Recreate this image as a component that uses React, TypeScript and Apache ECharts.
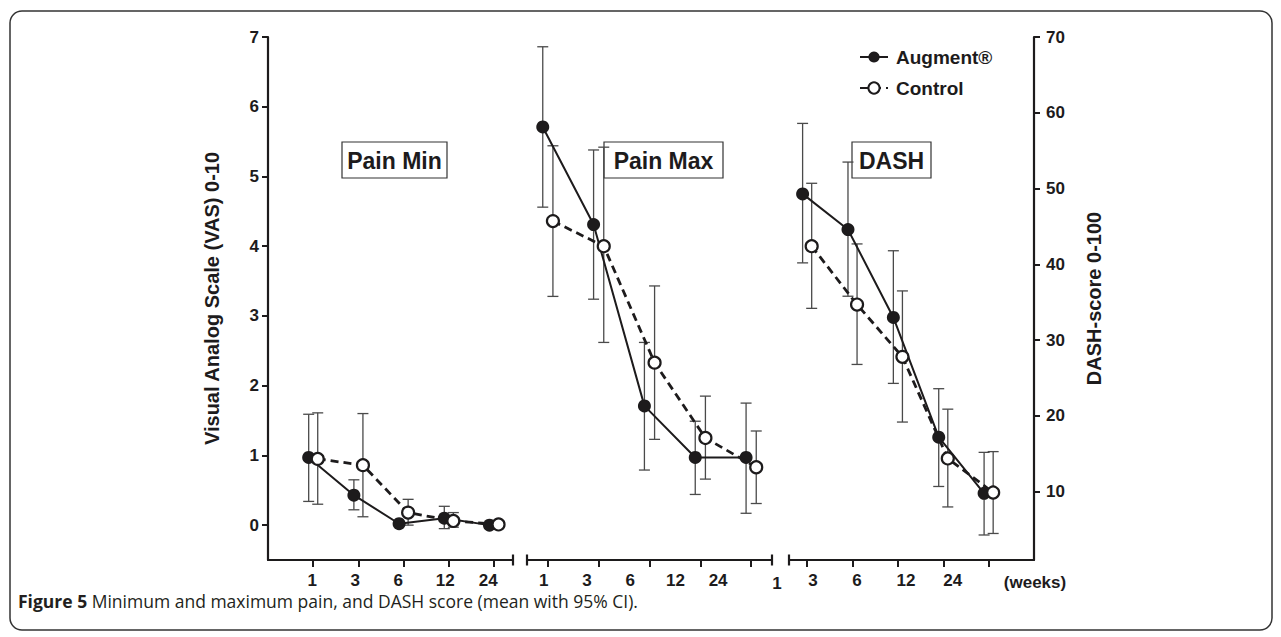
import React, { useEffect, useRef } from 'react';
import * as echarts from 'echarts';

// ---------- data ----------
const WEEKS = ['1', '3', '6', '12', '24'];
const SERIES_NAMES = ['Augment®', 'Control'];
const PANEL_TITLES = ['Pain Min', 'Pain Max', 'DASH'];
const VAS_TICKS = [0, 1, 2, 3, 4, 5, 6, 7];
const DASH_TICKS = [10, 20, 30, 40, 50, 60, 70];
const Y_LEFT_NAME = 'Visual Analog Scale (VAS) 0-10';
const Y_RIGHT_NAME = 'DASH-score 0-100';
const X_UNIT = '(weeks)';
const CAPTION_BOLD = 'Figure 5';
const CAPTION_TEXT = 'Minimum and maximum pain, and DASH score (mean with 95% CI).';

// Pain Min (VAS 0-10)
const painMinAugment = [0.97, 0.43, 0.02, 0.1, 0.0];
const painMinAugmentLow = [0.34, 0.22, 0.0, -0.05, 0.0];
const painMinAugmentHigh = [1.59, 0.65, 0.05, 0.27, 0.0];
const painMinControl = [0.95, 0.86, 0.18, 0.06, 0.01];
const painMinControlLow = [0.3, 0.12, 0.0, -0.03, 0.01];
const painMinControlHigh = [1.61, 1.6, 0.37, 0.18, 0.01];

// Pain Max (VAS 0-10)
const painMaxAugment = [5.71, 4.31, 1.71, 0.97, 0.97];
const painMaxAugmentLow = [4.56, 3.24, 0.79, 0.44, 0.17];
const painMaxAugmentHigh = [6.86, 5.38, 2.62, 1.49, 1.75];
const painMaxControl = [4.36, 4.0, 2.33, 1.25, 0.83];
const painMaxControlLow = [3.28, 2.62, 1.23, 0.66, 0.31];
const painMaxControlHigh = [5.44, 5.42, 3.43, 1.85, 1.35];

// DASH (0-100)
const dashAugment = [49.3, 44.6, 33.0, 17.2, 9.8];
const dashAugmentLow = [40.2, 35.8, 24.3, 10.7, 4.3];
const dashAugmentHigh = [58.6, 53.5, 41.8, 23.6, 15.2];
const dashControl = [42.4, 34.7, 27.8, 14.4, 9.9];
const dashControlLow = [34.2, 26.8, 19.2, 8.0, 4.5];
const dashControlHigh = [50.7, 42.7, 36.5, 20.9, 15.3];

// ---------- layout / style ----------
const INK = '#1d1b1c';
const BAR = '#4a4a4a';
const FONT = '"Liberation Sans", Arial, Helvetica, sans-serif';
const CAPTION_FONT = '"Open Sans", "Noto Sans", sans-serif';
const DODGE = 0.1;
const GRID_TOP = 37;
const GRID_HEIGHT = 523;
const VAS_MIN = -0.5;
const VAS_MAX = 7;
const DASH_MIN = 1;
const DASH_MAX = 70;
const SEGMENTS = [
  { left: 268, width: 245, xMin: 0, xMax: 5.42, labelPos: [0.98, 1.93, 2.88, 3.92, 4.87], caps: [5.42] },
  { left: 527, width: 245, xMin: 0.59, xMax: 5.41, labelPos: [0.92, 1.77, 2.62, 3.51, 4.35], caps: [0.59, 5.41] },
  { left: 789, width: 245, xMin: 0.6, xMax: 6, labelPos: [null, 1.13, 2.1, 3.18, 4.21], caps: [0.6] },
];
const BOXES = [
  { x: 342, y: 142, w: 105, h: 36 },
  { x: 604, y: 142, w: 119, h: 36 },
  { x: 852, y: 142, w: 79, h: 36 },
];

const PANELS = [
  {
    aug: painMinAugment, augLo: painMinAugmentLow, augHi: painMinAugmentHigh,
    ctl: painMinControl, ctlLo: painMinControlLow, ctlHi: painMinControlHigh,
  },
  {
    aug: painMaxAugment, augLo: painMaxAugmentLow, augHi: painMaxAugmentHigh,
    ctl: painMaxControl, ctlLo: painMaxControlLow, ctlHi: painMaxControlHigh,
  },
  {
    aug: dashAugment, augLo: dashAugmentLow, augHi: dashAugmentHigh,
    ctl: dashControl, ctlLo: dashControlLow, ctlHi: dashControlHigh,
  },
];

function errorBarRender(params: any, api: any) {
  const x = api.value(0);
  const lo = api.value(1);
  const hi = api.value(2);
  if (Math.abs(hi - lo) < 1e-9) return null;
  const a = api.coord([x, hi]);
  const b = api.coord([x, lo]);
  const w = 5.5;
  const style = { stroke: BAR, lineWidth: 1.3 };
  return {
    type: 'group',
    children: [
      { type: 'line', shape: { x1: a[0], y1: a[1], x2: b[0], y2: b[1] }, style },
      { type: 'line', shape: { x1: a[0] - w, y1: a[1], x2: a[0] + w, y2: a[1] }, style },
      { type: 'line', shape: { x1: b[0] - w, y1: b[1], x2: b[0] + w, y2: b[1] }, style },
    ],
  };
}

function capRender(params: any, api: any) {
  const p = api.coord([api.value(0), api.value(1)]);
  return {
    type: 'line',
    shape: { x1: p[0], y1: p[1] - 5.5, x2: p[0], y2: p[1] + 5.5 },
    style: { stroke: INK, lineWidth: 2.2 },
  };
}

function buildOption() {
  const grid = SEGMENTS.map((s) => ({ left: s.left, width: s.width, top: GRID_TOP, height: GRID_HEIGHT, containLabel: false }));

  const xAxis = SEGMENTS.map((s, i) => ({
    type: 'value',
    gridIndex: i,
    min: s.xMin,
    max: s.xMax,
    axisLine: { show: true, onZero: false, lineStyle: { color: INK, width: 2.2 } },
    axisTick: { show: true, customValues: WEEKS.map((_, k) => k + 1), length: 7, lineStyle: { color: INK, width: 2 } },
    axisLabel: {
      show: true,
      customValues: s.labelPos.filter((p) => p !== null),
      formatter: (v: number) => {
        const idx = s.labelPos.findIndex((p) => p !== null && Math.abs((p as number) - v) < 1e-6);
        return idx >= 0 ? WEEKS[idx] : '';
      },
      margin: 12,
      fontFamily: FONT,
      fontWeight: 'bold',
      fontSize: 17,
      lineHeight: 17,
      color: INK,
    },
    splitLine: { show: false },
  }));

  const axisNameStyle = { fontFamily: FONT, fontWeight: 'bold', fontSize: 20, color: INK };
  const yAxis = [
    {
      type: 'value', gridIndex: 0, position: 'left', min: VAS_MIN, max: VAS_MAX,
      axisLine: { show: true, onZero: false, lineStyle: { color: INK, width: 2.2 } },
      axisTick: { show: true, customValues: VAS_TICKS, length: 6, lineStyle: { color: INK, width: 2 } },
      axisLabel: { customValues: VAS_TICKS, margin: 9, fontFamily: FONT, fontWeight: 'bold', fontSize: 17, color: INK },
      splitLine: { show: false },
      name: Y_LEFT_NAME, nameLocation: 'middle', nameRotate: 90, nameGap: 46, nameTextStyle: axisNameStyle,
    },
    { type: 'value', gridIndex: 1, min: VAS_MIN, max: VAS_MAX, show: false, splitLine: { show: false } },
    {
      type: 'value', gridIndex: 2, position: 'right', min: DASH_MIN, max: DASH_MAX,
      axisLine: { show: true, onZero: false, lineStyle: { color: INK, width: 2.2 } },
      axisTick: { show: true, customValues: DASH_TICKS, length: 6, lineStyle: { color: INK, width: 2 } },
      axisLabel: { customValues: DASH_TICKS, margin: 12, fontFamily: FONT, fontWeight: 'bold', fontSize: 17, color: INK },
      splitLine: { show: false },
      name: Y_RIGHT_NAME, nameLocation: 'middle', nameRotate: 90, nameGap: 50, nameTextStyle: axisNameStyle,
    },
  ];

  const series: any[] = [];
  PANELS.forEach((p, i) => {
    series.push({
      type: 'custom', xAxisIndex: i, yAxisIndex: i, renderItem: errorBarRender, z: 1, silent: true,
      data: p.augLo.map((lo, k) => [k + 1 - DODGE, lo, p.augHi[k]]),
    });
    series.push({
      type: 'custom', xAxisIndex: i, yAxisIndex: i, renderItem: errorBarRender, z: 1, silent: true,
      data: p.ctlLo.map((lo, k) => [k + 1 + DODGE, lo, p.ctlHi[k]]),
    });
    series.push({
      type: 'custom', xAxisIndex: i, yAxisIndex: i, renderItem: capRender, z: 1, silent: true, clip: false,
      data: SEGMENTS[i].caps.map((c) => [c, i === 2 ? DASH_MIN : VAS_MIN]),
    });
    series.push({
      type: 'line', name: SERIES_NAMES[0], xAxisIndex: i, yAxisIndex: i,
      data: p.aug.map((v, k) => [k + 1 - DODGE, v]),
      symbol: 'circle', symbolSize: 13,
      itemStyle: { color: INK, borderColor: INK, borderWidth: 0 },
      lineStyle: { color: INK, width: 2 },
      z: 3,
    });
    series.push({
      type: 'line', name: SERIES_NAMES[1], xAxisIndex: i, yAxisIndex: i,
      data: p.ctl.map((v, k) => [k + 1 + DODGE, v]),
      symbol: 'circle', symbolSize: 12,
      itemStyle: { color: '#ffffff', borderColor: INK, borderWidth: 2.2 },
      lineStyle: { color: INK, width: 2.8, type: [8, 5] },
      z: 4,
    });
  });

  const graphic: any[] = [
    {
      type: 'rect', shape: { x: 10, y: 11, width: 1262, height: 619, r: 12 },
      style: { fill: 'none', stroke: '#333', lineWidth: 1.5 }, silent: true, z: -1,
    },
  ];
  BOXES.forEach((b, i) => {
    graphic.push({
      type: 'group', z: 10,
      children: [
        { type: 'rect', shape: { x: b.x, y: b.y, width: b.w, height: b.h }, style: { fill: '#fff', stroke: '#333', lineWidth: 1.2 } },
        {
          type: 'text', x: b.x + b.w / 2, y: b.y + b.h / 2 + 1,
          style: { text: PANEL_TITLES[i], fill: INK, font: `bold 23px ${FONT}`, align: 'center', verticalAlign: 'middle' },
        },
      ],
    });
  });
  graphic.push({
    type: 'text', x: 1035, y: 582,
    style: { text: X_UNIT, fill: INK, font: `bold 17px ${FONT}`, align: 'center', verticalAlign: 'middle' },
  });
  graphic.push({
    type: 'text', x: 777, y: 583,
    style: { text: WEEKS[0], fill: INK, font: `bold 17px ${FONT}`, align: 'center', verticalAlign: 'middle' },
  });
  graphic.push({
    type: 'text', x: 18, y: 601,
    style: {
      text: `{b|${CAPTION_BOLD}} ${CAPTION_TEXT}`,
      fill: '#231f20',
      font: `17.5px ${CAPTION_FONT}`,
      verticalAlign: 'middle',
      rich: { b: { fontWeight: 'bold', fontSize: 17.5, fontFamily: CAPTION_FONT, fill: '#231f20' } },
    },
  });

  return {
    animation: false,
    backgroundColor: '#ffffff',
    grid,
    xAxis,
    yAxis,
    legend: {
      data: SERIES_NAMES,
      orient: 'vertical',
      left: 854,
      top: 42,
      itemWidth: 28,
      itemHeight: 14,
      itemGap: 11,
      selectedMode: false,
      textStyle: { fontFamily: FONT, fontWeight: 'bold', fontSize: 19, color: INK, lineHeight: 20, padding: [0, 0, 0, 3] },
    },
    series,
    graphic,
  };
}

export default function App() {
  const ref = useRef<HTMLDivElement>(null);
  useEffect(() => {
    if (!ref.current) return;
    const chart = echarts.init(ref.current, undefined, { renderer: 'svg' });
    chart.setOption(buildOption() as any);
    return () => chart.dispose();
  }, []);
  return (
    <div
      ref={ref}
      style={{ position: 'fixed', left: 0, top: 0, width: 1281, height: 637, background: '#fff' }}
    />
  );
}
